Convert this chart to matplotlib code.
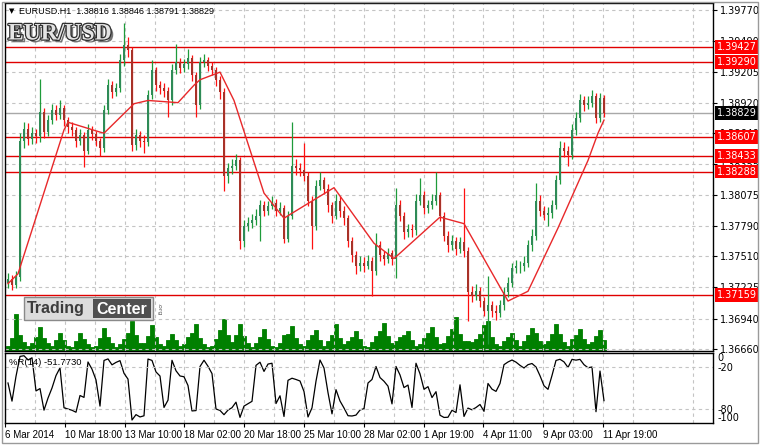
import numpy as np
import pandas as pd
import matplotlib
matplotlib.use('Agg')
import matplotlib.pyplot as plt
import matplotlib.patheffects as pe
from matplotlib.patches import Rectangle

# EURUSD, bars grouped 4 x H1 (6 Mar 2014 - 11 Apr 2014)
open0 = 1.3727
closes = [
    1.3730, 1.3725, 1.3732, 1.3857, 1.3868, 1.3859, 1.3864, 1.3861, 1.3883, 1.3865,
    1.3876, 1.3885, 1.3881, 1.3887, 1.3876, 1.3870, 1.3867, 1.3857, 1.3862, 1.3848,
    1.3867, 1.3863, 1.3857, 1.3850, 1.3885, 1.3908, 1.3902, 1.3905, 1.3931, 1.3945,
    1.3940, 1.3853, 1.3862, 1.3857, 1.3856, 1.3899, 1.3922, 1.3908, 1.3905, 1.3903,
    1.3894, 1.3922, 1.3929, 1.3924, 1.3927, 1.3933, 1.3917, 1.3890, 1.3929, 1.3931,
    1.3926, 1.3922, 1.3913, 1.3902, 1.3825, 1.3832, 1.3834, 1.3839, 1.3765, 1.3779,
    1.3782, 1.3784, 1.3788, 1.3798, 1.3793, 1.3797, 1.3800, 1.3793, 1.3795, 1.3767,
    1.3788, 1.3834, 1.3832, 1.3830, 1.3825, 1.3802, 1.3779, 1.3816, 1.3821, 1.3813,
    1.3798, 1.3788, 1.3802, 1.3793, 1.3786, 1.3765, 1.3752, 1.3742, 1.3745, 1.3742,
    1.3747, 1.3738, 1.3761, 1.3752, 1.3749, 1.3754, 1.3749, 1.3798, 1.3788, 1.3773,
    1.3776, 1.3775, 1.3802, 1.3807, 1.3795, 1.3798, 1.3802, 1.3807, 1.3788, 1.3770,
    1.3761, 1.3765, 1.3758, 1.3764, 1.3756, 1.3718, 1.3715, 1.3719, 1.3710, 1.3701,
    1.3706, 1.3701, 1.3699, 1.3706, 1.3718, 1.3727, 1.3740, 1.3742, 1.3742, 1.3745,
    1.3761, 1.3770, 1.3802, 1.3793, 1.3789, 1.3791, 1.3798, 1.3821, 1.3850, 1.3848,
    1.3844, 1.3867, 1.3878, 1.3894, 1.3890, 1.3892, 1.3898, 1.3878, 1.3896, 1.38829,
]
highs = [
    1.3736, 1.3734, 1.3738, 1.3864, 1.3874, 1.3873, 1.3870, 1.3868, 1.3914, 1.3887,
    1.3881, 1.3891, 1.3890, 1.3894, 1.3890, 1.3879, 1.3874, 1.3870, 1.3868, 1.3865,
    1.3872, 1.3871, 1.3866, 1.3860, 1.3890, 1.3914, 1.3912, 1.3910, 1.3937, 1.3965,
    1.3952, 1.3943, 1.3868, 1.3866, 1.3862, 1.3904, 1.3931, 1.3925, 1.3912, 1.3910,
    1.3906, 1.3927, 1.3946, 1.3933, 1.3932, 1.3941, 1.3936, 1.3920, 1.3934, 1.3937,
    1.3934, 1.3929, 1.3925, 1.3916, 1.3905, 1.3837, 1.3840, 1.3845, 1.3842, 1.3784,
    1.3787, 1.3790, 1.3794, 1.3803, 1.3802, 1.3802, 1.3806, 1.3804, 1.3801, 1.3798,
    1.3793, 1.3874, 1.3840, 1.3837, 1.3855, 1.3828, 1.3806, 1.3821, 1.3828, 1.3824,
    1.3817, 1.3801, 1.3808, 1.3806, 1.3797, 1.3789, 1.3769, 1.3756, 1.3751, 1.3750,
    1.3752, 1.3750, 1.3772, 1.3765, 1.3756, 1.3759, 1.3757, 1.3814, 1.3803, 1.3792,
    1.3781, 1.3781, 1.3808, 1.3823, 1.3811, 1.3803, 1.3808, 1.3828, 1.3810, 1.3792,
    1.3774, 1.3771, 1.3769, 1.3769, 1.3814, 1.3760, 1.3724, 1.3726, 1.3723, 1.3714,
    1.3733, 1.3710, 1.3706, 1.3711, 1.3723, 1.3732, 1.3745, 1.3748, 1.3747, 1.3751,
    1.3766, 1.3776, 1.3818, 1.3807, 1.3797, 1.3796, 1.3803, 1.3826, 1.3857, 1.3856,
    1.3852, 1.3872, 1.3883, 1.3900, 1.3898, 1.3898, 1.3904, 1.3901, 1.3901, 1.3899,
]
lows = [
    1.3722, 1.3720, 1.3722, 1.3728, 1.3850, 1.3853, 1.3854, 1.3855, 1.3856, 1.3860,
    1.3861, 1.3872, 1.3876, 1.3877, 1.3871, 1.3864, 1.3861, 1.3851, 1.3853, 1.3833,
    1.3845, 1.3858, 1.3852, 1.3843, 1.3847, 1.3882, 1.3896, 1.3898, 1.3902, 1.3926,
    1.3934, 1.3848, 1.3849, 1.3851, 1.3846, 1.3852, 1.3895, 1.3903, 1.3900, 1.3897,
    1.3879, 1.3890, 1.3918, 1.3919, 1.3920, 1.3923, 1.3912, 1.3879, 1.3886, 1.3925,
    1.3921, 1.3917, 1.3907, 1.3895, 1.3811, 1.3818, 1.3827, 1.3830, 1.3758, 1.3760,
    1.3774, 1.3777, 1.3780, 1.3765, 1.3788, 1.3789, 1.3794, 1.3788, 1.3789, 1.3763,
    1.3764, 1.3785, 1.3826, 1.3825, 1.3820, 1.3797, 1.3758, 1.3775, 1.3812, 1.3808,
    1.3792, 1.3782, 1.3785, 1.3787, 1.3780, 1.3760, 1.3746, 1.3735, 1.3738, 1.3737,
    1.3739, 1.3715, 1.3734, 1.3747, 1.3743, 1.3745, 1.3743, 1.3731, 1.3783, 1.3767,
    1.3769, 1.3769, 1.3771, 1.3798, 1.3790, 1.3791, 1.3794, 1.3798, 1.3783, 1.3765,
    1.3755, 1.3757, 1.3752, 1.3754, 1.3750, 1.3692, 1.3709, 1.3711, 1.3705, 1.3696,
    1.3671, 1.3695, 1.3693, 1.3695, 1.3702, 1.3714, 1.3723, 1.3736, 1.3736, 1.3738,
    1.3741, 1.3756, 1.3766, 1.3788, 1.3784, 1.3779, 1.3786, 1.3794, 1.3817, 1.3842,
    1.3834, 1.3840, 1.3862, 1.3874, 1.3884, 1.3886, 1.3888, 1.3873, 1.3874, 1.3879,
]
volumes = [
    500, 1200, 3400, 1500, 800, 500, 700, 1300, 2200, 1200,
    700, 500, 1000, 1700, 1000, 500, 400, 900, 1700, 1100,
    600, 400, 500, 1200, 2100, 1300, 700, 400, 600, 1100,
    1700, 2800, 1500, 700, 700, 1400, 2400, 1300, 600, 500,
    1000, 1600, 1000, 500, 600, 1300, 1700, 2500, 1200, 600,
    400, 500, 1100, 1900, 2900, 1500, 800, 1500, 2500, 1400,
    700, 400, 700, 1300, 2000, 1100, 500, 400, 700, 1500,
    1600, 2300, 1200, 600, 500, 1000, 1500, 1900, 1000, 500,
    900, 1500, 2500, 1200, 600, 900, 1300, 1800, 1100, 500,
    400, 800, 1400, 1800, 2600, 1400, 700, 900, 1300, 1500,
    1800, 1000, 500, 600, 1200, 1700, 2200, 1300, 600, 700,
    1400, 2000, 3100, 1600, 900, 900, 800, 1100, 1600, 2400,
    2800, 1300, 600, 500, 900, 1300, 1700, 1000, 500, 900,
    1500, 2100, 1700, 900, 600, 900, 1600, 2500, 1600, 800,
    500, 1100, 1500, 2000, 1100, 600, 800, 1400, 1900, 1000,
]

# moving average (bar position, value)
ma_pos = [0, 2.5, 14, 15, 23, 24, 31.5, 35, 42.5, 46.5, 48, 53, 56.5, 64, 69, 70.75,
          81.5, 91.5, 96.5, 108, 114, 125, 130, 137.5, 145, 147.5, 149]
ma_val = [1.3726, 1.3735, 1.3867, 1.3874, 1.3865, 1.3864, 1.3891, 1.3894, 1.3892, 1.3908,
          1.3913, 1.3920, 1.3894, 1.3809, 1.3786, 1.3790, 1.3814, 1.3763, 1.3749, 1.3787,
          1.3781, 1.3710, 1.3719, 1.3777, 1.3839, 1.3864, 1.3876]

red_levels = [1.39427, 1.39290, 1.38607, 1.38433, 1.38288, 1.37159]
last_price = 1.38829
price_ticks = [1.39770, 1.39490, 1.39205, 1.38920, 1.38640, 1.38355,
               1.38075, 1.37790, 1.37510, 1.37225, 1.36940, 1.36660]
date_labels = ['6 Mar 2014', '10 Mar 18:00', '13 Mar 10:00', '18 Mar 02:00',
               '20 Mar 18:00', '25 Mar 10:00', '28 Mar 02:00', '1 Apr 19:00',
               '4 Apr 11:00', '9 Apr 03:00', '11 Apr 19:00']

closes = np.array(closes)
highs = np.array(highs)
lows = np.array(lows)
opens = np.concatenate([[open0], closes[:-1]])
idx = np.arange(len(closes))

# Williams %R over ~14 hourly bars
hh = pd.Series(highs).rolling(4, min_periods=1).max().values
ll = pd.Series(lows).rolling(4, min_periods=1).min().values
wpr = (hh - closes) / (hh - ll) * -100

W, H = 760, 445
def rect(x0, y0, x1, y1):
    return [x0 / W, 1 - y1 / H, (x1 - x0) / W, (y1 - y0) / H]

small = ['Liberation Sans', 'DejaVu Sans']

fig = plt.figure(figsize=(7.6, 4.45), dpi=100)
fig.patch.set_facecolor('white')
fig.patches.append(Rectangle((0.002, 0.004), 0.995, 0.992, transform=fig.transFigure,
                             fill=False, ec='#9a9a9a', lw=1))

ax = fig.add_axes(rect(5, 3, 713, 351))
axr = fig.add_axes(rect(5, 353, 713, 423), sharex=ax)

grid_kw = dict(color='#c4c4c4', linestyle=(0, (3, 3)), linewidth=0.8)

# volume behind candles
vol = ax.twinx()
vol.bar(idx, volumes, width=1.0, color='#008000', edgecolor='#008000', linewidth=0.6)
vol.set_ylim(0, 32000)
vol.axis('off')
ax.set_zorder(vol.get_zorder() + 1)
ax.patch.set_visible(False)
ax.yaxis.tick_right()

# candles
up = closes >= opens
for i in idx:
    wc = '#1e9b3a' if up[i] else '#ff1010'
    bc = '#2e8b57' if up[i] else '#a83228'
    ax.vlines(i, lows[i], highs[i], color=wc, lw=0.9, zorder=3)
    ax.bar(i, abs(closes[i] - opens[i]) or 0.00003, bottom=min(opens[i], closes[i]),
           width=0.7, color=bc, linewidth=0, zorder=4)

ax.plot(ma_pos, ma_val, color='#e8282a', lw=1, zorder=5)
for lv in red_levels:
    ax.axhline(lv, color='#e00000', lw=1, zorder=2)
ax.axhline(last_price, color='#a8a8a8', lw=1, zorder=1)

xmin = -0.75
ax.set_xlim(xmin, xmin + 708 / 4)
ax.set_ylim(1.36642, 1.39834)

tick_pos = xmin + 14.95 * np.arange(len(date_labels))
minor_pos = xmin + 7.475 + 14.95 * np.arange(len(date_labels) + 1)
axr.set_xticks(tick_pos)
axr.set_xticklabels(date_labels, ha='left', fontsize=7, family=small)
axr.set_xticks(minor_pos, minor=True)
axr.tick_params(axis='x', which='major', length=3, direction='out', pad=2)
axr.tick_params(axis='x', which='minor', length=0)
ax.tick_params(axis='x', which='both', length=0, labelbottom=False)

ax.set_yticks(price_ticks)
ax.set_yticklabels(['%.5f' % p for p in price_ticks])
ax.tick_params(axis='y', which='both', right=True, left=False, length=3,
               direction='out', labelsize=7, pad=2)
ax.grid(True, axis='y', **grid_kw)
ax.grid(True, axis='x', which='both', **grid_kw)
axr.grid(True, axis='x', which='both', **grid_kw)
for a in (ax, axr):
    for s in a.spines.values():
        s.set_color('black')
        s.set_linewidth(1)
    a.set_axisbelow(True)

# right-hand price labels
tr = ax.get_yaxis_transform()
for lv in red_levels:
    ax.text(1.005, lv, '%.5f' % lv, transform=tr, fontsize=7, color='white',
            va='center', ha='left', zorder=10,
            bbox=dict(boxstyle='square,pad=0.2', fc='#ff0000', ec='none'))
ax.text(1.005, last_price, '%.5f' % last_price, transform=tr, fontsize=7, color='white',
        va='center', ha='left', zorder=10,
        bbox=dict(boxstyle='square,pad=0.2', fc='black', ec='none'))

# %R panel
axr.plot(idx, wpr, color='black', lw=0.9)
axr.set_ylim(-100, 0)
axr.axhline(-20, **grid_kw)
axr.axhline(-80, **grid_kw)
axr.yaxis.tick_right()
axr.set_yticks([0, -20, -80, -100])
axr.set_yticklabels(['0', '-20', '-80', '-100'])
axr.tick_params(axis='y', length=0, labelsize=7, pad=3)
ylbl = axr.get_yticklabels()
ylbl[0].set_va('top')
ylbl[3].set_va('bottom')
axr.text(0.005, 0.93, '%R(14) -51.7730', transform=axr.transAxes, fontsize=6.8,
         family=small, va='top', ha='left')

# header
fig.text(9 / W, 1 - 11 / H, '\u25bc', fontsize=5, va='center', ha='left')
fig.text(19 / W, 1 - 11 / H, 'EURUSD.H1  1.38816 1.38846 1.38791 1.38829',
         fontsize=6.5, family=small, va='center', ha='left')

# EUR/USD logo
fig.text(8 / W, 1 - 34 / H, 'EUR/USD', fontsize=17, fontweight='bold',
         family=['Liberation Serif', 'DejaVu Serif'], color='#e4e4e4', va='center',
         path_effects=[pe.SimplePatchShadow(offset=(2, -2), shadow_rgbFace='#666666', alpha=0.9),
                       pe.withStroke(linewidth=1.8, foreground='#2e2e2e')])

# Trading Center logo
fig.patches.append(Rectangle((24 / W, 1 - 320 / H), 129 / W, 23 / H, transform=fig.transFigure,
                             fc='#dcdcdc', ec='#8a8a8a', lw=1, zorder=20))
fig.patches.append(Rectangle((93 / W, 1 - 318 / H), 58 / W, 19 / H, transform=fig.transFigure,
                             fc='#505050', ec='none', zorder=21))
fig.text(27 / W, 1 - 309 / H, 'Trading', fontsize=11.5, fontweight='bold',
         family=small, color='#3c3c3c', va='center', ha='left', zorder=22)
fig.text(96 / W, 1 - 309 / H, 'Center', fontsize=11.5, fontweight='bold',
         family=small, color='white', va='center', ha='left', zorder=22)
fig.text(159 / W, 1 - 309 / H, '.org', fontsize=4.5, rotation=-90, color='#555555',
         va='center', ha='center', zorder=22)

fig.savefig('out.png', dpi=100)
